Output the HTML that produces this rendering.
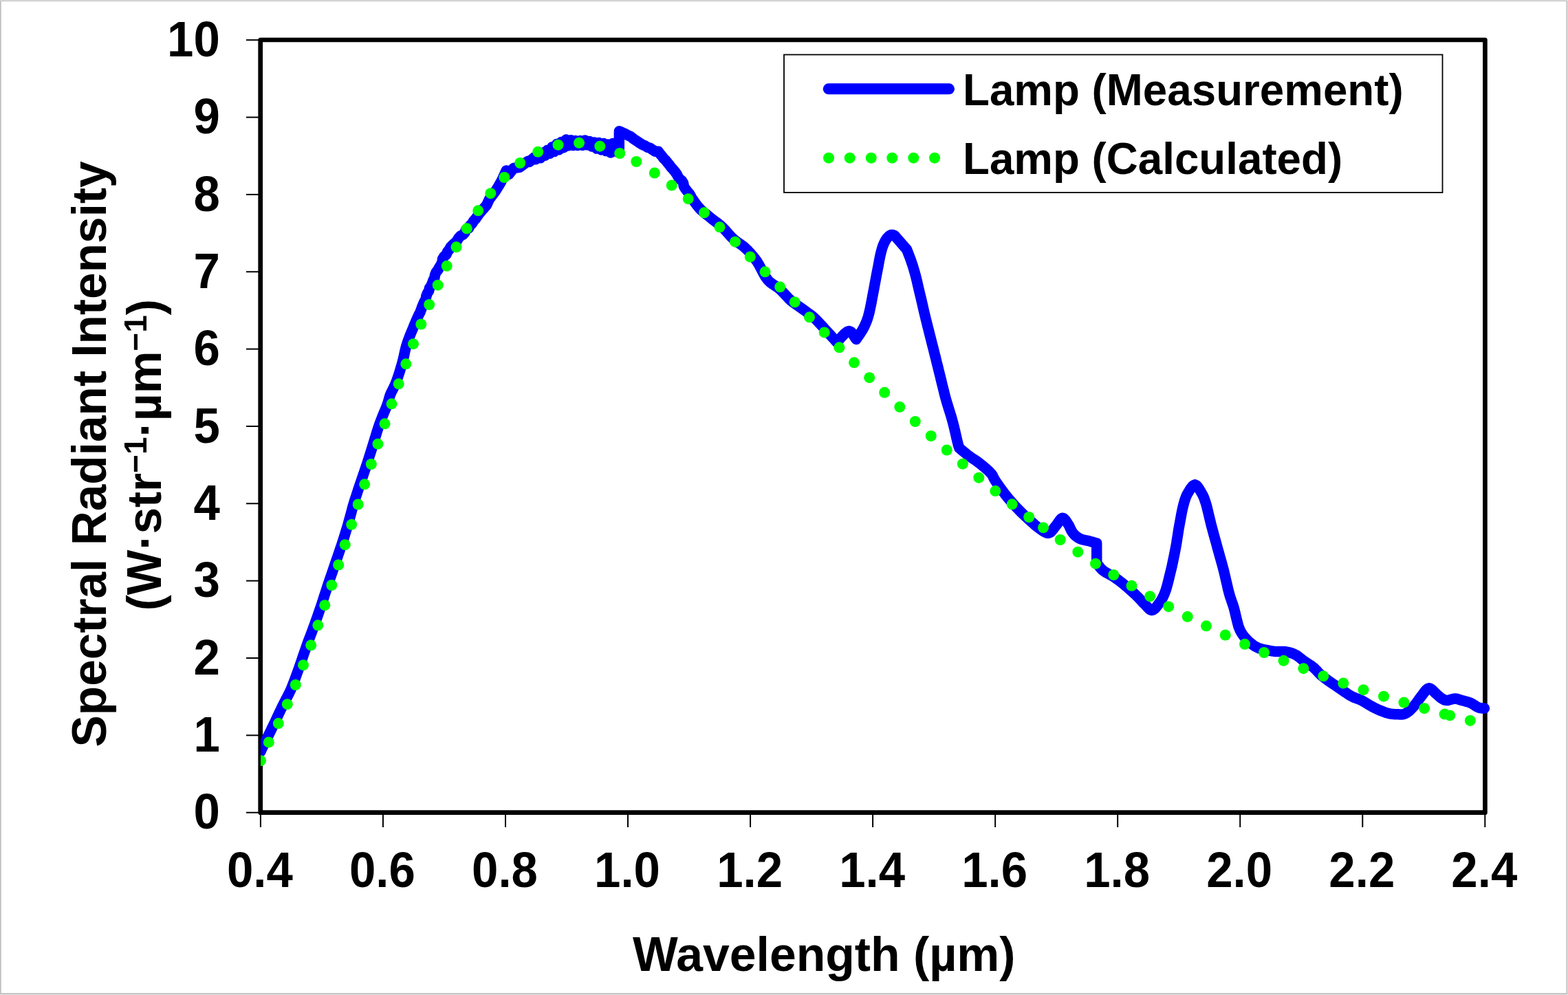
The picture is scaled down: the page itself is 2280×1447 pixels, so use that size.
<!DOCTYPE html>
<html lang="en">
<head>
<meta charset="utf-8">
<title>Lamp spectral radiant intensity</title>
<style>
html,body{margin:0;padding:0;background:#fff;}
body{width:2280px;height:1447px;overflow:hidden;}
svg{display:block;position:absolute;left:0;top:0;}
text{font-family:"Liberation Sans", sans-serif;font-weight:bold;fill:#000;}
.tick{font-size:69px;}
.title{font-size:69.7px;}
.ytitle{font-size:69.4px;}
.leg{font-size:63.7px;}
</style>
</head>
<body>
<svg width="2280" height="1447" viewBox="0 0 2280 1447">
<rect x="0" y="0" width="2280" height="1447" fill="#e2e2e2"/>
<rect x="0" y="0.9" width="2279.1" height="1445.1" fill="#c2c2c2"/>
<rect x="1.8" y="2" width="2275.6" height="1442.1" fill="#fff"/>
<rect x="378.70" y="58.00" width="1780.70" height="1123.70" fill="none" stroke="#000" stroke-width="6.7" stroke-linejoin="round"/>
<g stroke="#000" stroke-width="2">
<line x1="358" y1="1181.70" x2="379" y2="1181.70"/>
<line x1="358" y1="1069.35" x2="379" y2="1069.35"/>
<line x1="358" y1="957.00" x2="379" y2="957.00"/>
<line x1="358" y1="844.65" x2="379" y2="844.65"/>
<line x1="358" y1="732.30" x2="379" y2="732.30"/>
<line x1="358" y1="619.95" x2="379" y2="619.95"/>
<line x1="358" y1="507.60" x2="379" y2="507.60"/>
<line x1="358" y1="395.25" x2="379" y2="395.25"/>
<line x1="358" y1="282.90" x2="379" y2="282.90"/>
<line x1="358" y1="170.55" x2="379" y2="170.55"/>
<line x1="358" y1="58.20" x2="379" y2="58.20"/>
<line x1="378.90" y1="1181.7" x2="378.90" y2="1203"/>
<line x1="556.94" y1="1181.7" x2="556.94" y2="1203"/>
<line x1="734.98" y1="1181.7" x2="734.98" y2="1203"/>
<line x1="913.02" y1="1181.7" x2="913.02" y2="1203"/>
<line x1="1091.06" y1="1181.7" x2="1091.06" y2="1203"/>
<line x1="1269.10" y1="1181.7" x2="1269.10" y2="1203"/>
<line x1="1447.14" y1="1181.7" x2="1447.14" y2="1203"/>
<line x1="1625.18" y1="1181.7" x2="1625.18" y2="1203"/>
<line x1="1803.22" y1="1181.7" x2="1803.22" y2="1203"/>
<line x1="1981.26" y1="1181.7" x2="1981.26" y2="1203"/>
<line x1="2159.30" y1="1181.7" x2="2159.30" y2="1203"/>
</g>
<defs><clipPath id="plotclip"><rect x="378.9" y="0" width="1902" height="1447"/></clipPath></defs>
<path d="M379.0 1093.0 L379.8 1091.2 L380.6 1089.4 L381.4 1087.6 L382.3 1085.7 L383.3 1083.6 L385.1 1080.0 L387.1 1075.9 L389.3 1071.6 L391.5 1067.1 L393.7 1062.7 L396.1 1057.7 L398.6 1052.5 L401.1 1047.2 L403.4 1042.2 L405.6 1037.6 L407.0 1034.7 L408.3 1032.0 L409.5 1029.4 L410.8 1026.9 L412.1 1024.2 L413.7 1021.1 L415.4 1017.8 L417.2 1014.5 L418.8 1011.3 L420.3 1008.4 L421.2 1006.5 L422.0 1004.8 L422.8 1003.1 L423.6 1001.2 L424.5 999.0 L426.5 993.8 L428.9 987.6 L431.4 980.7 L433.9 973.8 L436.2 967.2 L438.3 961.3 L440.2 955.5 L442.2 949.8 L444.2 944.1 L446.2 938.3 L448.3 932.5 L450.5 926.7 L452.7 920.9 L454.9 915.1 L457.0 909.3 L459.1 903.5 L461.2 897.7 L463.2 891.9 L465.2 886.0 L467.2 880.2 L469.1 874.4 L471.0 868.5 L472.9 862.7 L474.8 856.8 L476.7 851.0 L478.7 845.1 L480.7 839.3 L482.7 833.4 L484.7 827.6 L486.7 821.7 L488.7 815.8 L490.8 809.9 L492.8 804.0 L494.8 798.1 L496.8 792.2 L498.7 786.3 L500.6 780.5 L502.4 774.6 L504.2 768.7 L506.0 762.8 L507.6 756.9 L509.2 751.1 L510.8 745.2 L512.3 739.3 L514.0 733.5 L515.8 727.6 L517.7 721.8 L519.6 716.0 L521.5 710.1 L523.5 704.3 L525.5 698.4 L527.5 692.6 L529.5 686.7 L531.5 680.9 L533.5 675.0 L535.4 669.1 L537.2 663.3 L539.1 657.4 L540.9 651.6 L542.7 645.7 L544.5 639.8 L546.3 633.9 L548.1 628.0 L550.0 622.1 L552.0 616.3 L554.3 610.3 L556.7 604.2 L559.2 598.1 L561.6 592.4 L563.5 587.3 L564.5 584.2 L565.3 581.4 L566.0 578.7 L566.8 576.0 L567.8 573.3 L569.1 570.4 L570.5 567.6 L572.0 564.7 L573.5 561.6 L575.0 558.3 L577.0 553.1 L578.9 547.4 L580.9 541.4 L582.7 535.3 L584.5 529.3 L586.0 523.5 L587.4 517.6 L588.6 511.8 L590.0 506.0 L591.7 500.2 L593.7 494.4 L595.9 488.6 L598.2 482.9 L600.6 477.2 L602.2 473.3 L603.8 469.5 L605.4 465.6 L607.2 461.8 L608.9 457.9 L610.9 454.2 L612.4 450.3 L613.7 446.3 L615.4 442.4 L617.0 438.6 L619.2 434.9 L619.8 430.6 L621.3 426.7 L623.6 423.1 L624.5 419.0 L627.0 415.4 L628.6 411.5 L629.9 407.6 L631.9 403.8 L632.6 399.5 L634.3 395.6 L637.0 392.3 L638.9 388.5 L641.1 385.0 L643.0 381.2 L643.5 376.8 L645.7 373.1 L649.0 370.2 L650.6 366.2 L653.3 362.9 L655.3 359.1 L658.4 356.1 L661.5 353.3 L664.4 350.3 L666.6 346.6 L669.3 343.4 L673.2 341.3 L676.0 338.2 L677.6 334.1 L681.5 331.8 L683.5 328.0 L686.5 325.0 L688.7 321.4 L691.5 318.3 L693.9 314.8 L696.3 311.4 L697.2 310.3 L699.0 308.0 L707.3 298.7 L711.6 289.5 L720.7 277.5 L725.0 270.5 L728.2 265.0 L730.9 259.6 L736.2 247.9 L739.9 253.6 L746.9 244.5 L755.6 243.3 L767.8 234.3 L769.8 235.3 L776.2 229.3 L779.0 231.7 L782.4 225.9 L785.8 229.8 L789.2 222.1 L792.6 226.3 L796.0 218.3 L799.4 223.3 L802.8 213.8 L806.2 220.5 L809.6 209.4 L813.0 217.8 L816.4 206.4 L819.8 214.7 L823.2 203.0 L826.6 211.7 L830.0 203.7 L833.4 211.6 L836.8 204.6 L840.2 211.6 L843.6 204.6 L847.0 211.3 L850.4 203.9 L853.8 210.8 L857.2 205.5 L860.6 213.1 L864.0 206.9 L867.4 216.1 L870.8 207.5 L874.2 217.9 L877.6 208.4 L881.0 219.6 L884.4 210.0 L887.8 222.0 L891.2 208.5 L894.6 219.7 L897.5 221.0 L900.2 219.0 L900.4 190.7 L902.1 191.5 L903.8 192.2 L905.4 193.0 L909.3 194.7 L913.0 196.8 L916.8 198.4 L920.1 201.1 L923.5 203.5 L927.1 205.8 L930.5 208.2 L934.1 210.4 L938.0 212.0 L941.5 214.2 L945.7 215.4 L949.1 217.9 L952.7 220.2 L957.2 220.3 L959.7 223.8 L962.5 226.9 L964.9 230.3 L968.0 233.2 L970.6 236.5 L973.3 239.7 L975.7 243.2 L978.6 246.2 L981.3 249.4 L983.8 252.8 L985.7 256.5 L987.9 260.0 L991.5 262.8 L993.6 266.4 L994.4 270.8 L996.5 274.5 L999.1 277.8 L1001.9 281.0 L1004.2 284.6 L1006.1 288.4 L1008.6 291.7 L1009.1 292.6 L1012.9 297.8 L1016.7 302.5 L1019.9 305.8 L1023.2 308.7 L1026.6 311.4 L1029.9 314.0 L1033.3 316.7 L1036.6 319.4 L1040.0 321.9 L1043.4 324.5 L1046.7 327.1 L1050.0 330.0 L1053.4 333.4 L1056.7 337.1 L1060.0 340.8 L1063.3 344.5 L1066.7 347.8 L1070.0 350.5 L1073.3 352.9 L1076.7 355.2 L1080.0 357.6 L1083.3 360.3 L1086.8 363.6 L1090.2 367.2 L1093.5 371.0 L1096.8 375.0 L1100.0 379.2 L1103.4 384.6 L1106.6 390.7 L1109.8 396.8 L1113.1 402.6 L1116.7 407.5 L1119.8 410.5 L1123.2 413.0 L1126.6 415.2 L1130.0 417.4 L1133.3 420.0 L1136.7 423.2 L1140.0 426.7 L1143.3 430.3 L1146.6 433.8 L1150.0 437.0 L1153.3 439.7 L1156.6 442.1 L1160.0 444.5 L1163.4 446.8 L1166.7 449.2 L1170.0 451.6 L1173.4 454.0 L1176.7 456.4 L1180.1 459.0 L1183.3 461.7 L1186.7 464.9 L1190.1 468.4 L1193.4 472.0 L1196.7 475.6 L1200.0 479.2 L1203.4 482.8 L1206.7 486.5 L1210.0 490.2 L1213.4 493.8 L1216.7 497.5 L1220.5 493.7 L1224.3 489.4 L1228.1 485.4 L1231.8 482.5 L1235.0 481.5 L1237.3 482.5 L1239.3 484.7 L1241.2 487.6 L1243.1 490.7 L1245.0 493.5 L1247.2 490.2 L1249.5 486.8 L1251.8 483.5 L1253.9 480.1 L1255.8 476.7 L1257.4 473.5 L1258.8 470.4 L1260.1 467.2 L1261.3 463.8 L1262.5 460.0 L1264.1 454.1 L1265.5 447.5 L1266.9 440.6 L1268.2 433.6 L1269.5 426.7 L1270.8 420.0 L1272.0 413.3 L1273.3 406.6 L1274.5 399.9 L1275.8 393.3 L1277.1 386.7 L1278.3 380.0 L1279.6 373.3 L1281.0 367.2 L1282.4 362.0 L1283.3 359.2 L1284.2 356.7 L1285.2 354.4 L1286.2 352.3 L1287.2 350.3 L1288.1 348.9 L1288.9 347.5 L1289.9 346.3 L1290.8 345.2 L1291.8 344.2 L1292.7 343.4 L1293.5 342.7 L1294.5 342.1 L1295.4 341.7 L1296.3 341.4 L1297.1 341.4 L1298.0 341.5 L1298.9 341.7 L1299.7 342.0 L1300.6 342.2 L1318.5 362.9 L1319.7 365.9 L1320.8 368.8 L1322.0 371.8 L1323.2 374.8 L1324.3 377.9 L1325.5 381.4 L1326.7 384.8 L1327.8 388.4 L1328.9 392.2 L1330.1 396.2 L1331.6 401.8 L1333.1 407.8 L1334.5 414.0 L1336.0 420.4 L1337.5 426.7 L1339.1 433.4 L1340.7 440.3 L1342.3 447.2 L1343.8 453.9 L1345.3 460.0 L1346.3 464.2 L1347.3 468.1 L1348.2 471.9 L1349.2 475.8 L1350.3 480.0 L1351.8 486.1 L1353.5 492.7 L1355.2 499.6 L1357.0 506.5 L1358.7 513.3 L1360.4 520.0 L1362.0 526.7 L1363.7 533.3 L1365.3 540.0 L1367.0 546.7 L1368.6 553.4 L1370.2 560.0 L1371.9 566.7 L1373.5 573.4 L1375.3 580.0 L1377.2 586.7 L1379.3 593.3 L1381.4 600.0 L1383.4 606.6 L1385.3 613.3 L1387.1 620.4 L1388.9 628.1 L1390.6 635.5 L1392.1 641.9 L1393.3 646.7 L1393.7 648.0 L1394.0 649.0 L1394.4 649.9 L1394.7 650.8 L1395.0 651.7 L1397.6 653.9 L1400.2 656.0 L1402.8 658.2 L1405.5 660.3 L1408.3 662.5 L1411.5 664.8 L1414.9 667.1 L1418.3 669.3 L1421.7 671.7 L1425.0 674.2 L1428.6 677.1 L1432.3 680.2 L1435.9 683.3 L1439.1 686.4 L1441.7 689.2 L1442.8 690.8 L1443.6 692.2 L1444.3 693.7 L1445.0 695.2 L1446.0 697.0 L1448.4 700.8 L1451.5 705.2 L1454.8 710.0 L1458.3 714.7 L1461.7 719.2 L1464.9 723.2 L1468.2 727.1 L1471.5 730.9 L1474.9 734.7 L1478.3 738.3 L1481.6 741.7 L1484.9 745.0 L1488.2 748.2 L1491.6 751.4 L1495.0 754.5 L1498.3 757.5 L1501.7 760.6 L1505.0 763.6 L1508.4 766.3 L1511.7 768.7 L1514.4 770.6 L1517.2 772.5 L1519.9 774.1 L1522.5 775.2 L1525.0 775.3 L1527.2 774.3 L1529.2 772.4 L1531.2 770.0 L1533.1 767.4 L1535.0 765.0 L1537.0 762.4 L1539.1 759.3 L1541.1 756.4 L1543.1 754.2 L1545.0 753.3 L1546.7 753.9 L1548.3 755.4 L1550.0 757.5 L1551.5 759.8 L1553.0 762.0 L1554.5 764.4 L1555.8 767.2 L1557.0 769.9 L1558.4 772.6 L1560.0 775.0 L1561.7 777.0 L1563.6 778.8 L1565.6 780.5 L1567.8 782.0 L1570.0 783.3 L1572.5 784.3 L1575.2 785.0 L1577.9 785.6 L1580.7 786.1 L1583.3 786.7 L1585.6 787.4 L1587.9 788.0 L1590.2 788.7 L1592.4 789.3 L1594.7 790.0 L1594.7 819.0 L1596.3 821.1 L1597.9 823.2 L1599.5 825.2 L1601.3 827.3 L1603.3 829.2 L1606.2 831.3 L1609.5 833.3 L1613.0 835.2 L1616.6 837.1 L1620.0 839.2 L1623.4 841.6 L1626.8 844.1 L1630.1 846.6 L1633.4 849.3 L1636.7 852.0 L1640.1 854.9 L1643.5 857.9 L1646.9 861.0 L1650.2 864.0 L1653.3 867.0 L1655.8 869.5 L1658.2 872.1 L1660.5 874.6 L1662.7 877.0 L1665.0 879.2 L1667.0 881.3 L1669.0 883.5 L1671.0 885.5 L1673.0 887.0 L1675.0 887.5 L1677.1 886.8 L1679.1 885.2 L1681.2 882.9 L1683.2 880.4 L1685.0 878.0 L1686.9 875.5 L1688.6 872.8 L1690.2 869.9 L1691.8 866.8 L1693.3 863.3 L1695.4 857.6 L1697.3 851.0 L1699.1 844.0 L1700.8 836.9 L1702.5 830.0 L1704.1 823.4 L1705.5 816.7 L1706.9 810.0 L1708.2 803.4 L1709.5 796.7 L1710.7 790.0 L1711.7 783.3 L1712.8 776.7 L1713.8 770.0 L1715.0 763.3 L1716.3 756.4 L1717.6 749.2 L1719.0 742.1 L1720.5 735.6 L1722.0 730.0 L1722.9 727.1 L1723.8 724.5 L1724.7 722.1 L1725.7 719.8 L1727.0 717.5 L1728.8 714.5 L1730.8 711.1 L1733.1 708.0 L1735.3 705.8 L1737.5 704.9 L1739.6 705.8 L1741.7 708.1 L1743.8 711.2 L1745.8 714.5 L1747.5 717.5 L1748.8 719.8 L1749.9 722.1 L1750.9 724.5 L1751.8 727.1 L1752.8 730.0 L1754.5 735.6 L1756.1 742.1 L1757.8 749.2 L1759.5 756.4 L1761.2 763.3 L1763.0 770.0 L1764.8 776.7 L1766.6 783.3 L1768.5 790.0 L1770.3 796.7 L1772.2 803.4 L1774.0 810.0 L1775.9 816.7 L1777.7 823.3 L1779.5 830.0 L1781.1 836.8 L1782.7 843.7 L1784.3 850.6 L1785.8 857.2 L1787.4 863.3 L1788.7 867.7 L1790.1 871.7 L1791.4 875.6 L1792.8 879.6 L1794.2 884.0 L1795.8 890.3 L1797.4 897.2 L1799.1 904.3 L1800.9 911.0 L1803.2 916.7 L1805.2 920.3 L1807.3 923.5 L1809.6 926.4 L1812.0 929.1 L1814.5 931.7 L1817.1 934.1 L1819.8 936.3 L1822.6 938.4 L1825.4 940.2 L1828.3 941.7 L1830.9 942.8 L1833.6 943.6 L1836.3 944.2 L1839.0 944.8 L1841.7 945.3 L1844.3 945.9 L1847.0 946.4 L1849.6 946.8 L1852.3 947.2 L1855.0 947.5 L1858.0 947.6 L1861.0 947.6 L1864.0 947.5 L1867.1 947.5 L1870.0 947.8 L1872.7 948.3 L1875.4 949.0 L1878.1 949.8 L1880.7 950.8 L1883.3 952.0 L1886.1 953.6 L1888.7 955.5 L1891.4 957.6 L1894.0 959.7 L1896.7 961.7 L1899.4 963.5 L1902.1 965.3 L1904.8 967.0 L1907.5 968.8 L1910.0 970.8 L1912.4 973.0 L1914.5 975.2 L1916.7 977.6 L1919.0 980.0 L1921.7 982.5 L1926.1 986.0 L1931.1 989.6 L1936.4 993.3 L1941.7 996.9 L1946.7 1000.3 L1950.9 1003.2 L1955.0 1006.0 L1959.0 1008.7 L1962.9 1011.2 L1966.7 1013.3 L1969.5 1014.6 L1972.1 1015.6 L1974.8 1016.6 L1977.4 1017.5 L1980.0 1018.7 L1983.0 1020.3 L1986.0 1022.1 L1989.0 1024.0 L1992.0 1025.8 L1995.0 1027.5 L1997.7 1028.9 L2000.4 1030.2 L2003.1 1031.5 L2005.7 1032.7 L2008.4 1033.8 L2010.9 1034.8 L2013.4 1035.7 L2015.9 1036.6 L2018.4 1037.3 L2020.9 1037.9 L2023.4 1038.3 L2026.0 1038.6 L2028.6 1038.7 L2031.1 1038.8 L2033.5 1038.8 L2035.3 1038.9 L2037.0 1038.9 L2038.6 1038.9 L2040.2 1038.8 L2041.8 1038.4 L2043.5 1037.7 L2045.3 1036.7 L2046.9 1035.5 L2048.6 1034.3 L2050.2 1032.9 L2051.9 1031.3 L2053.6 1029.5 L2055.3 1027.6 L2056.9 1025.6 L2058.5 1023.6 L2060.2 1021.4 L2061.8 1019.2 L2063.4 1016.9 L2065.1 1014.6 L2066.9 1012.3 L2068.9 1009.6 L2071.1 1006.6 L2073.3 1003.8 L2075.6 1001.7 L2077.8 1000.8 L2079.8 1001.3 L2081.8 1002.7 L2083.9 1004.6 L2085.9 1006.7 L2087.8 1008.5 L2089.5 1010.0 L2091.2 1011.5 L2092.9 1013.0 L2094.5 1014.4 L2096.2 1015.6 L2097.5 1016.4 L2098.8 1017.1 L2100.0 1017.8 L2101.4 1018.2 L2102.9 1018.5 L2105.3 1018.4 L2108.0 1017.7 L2110.8 1016.9 L2113.6 1016.2 L2116.2 1016.0 L2118.1 1016.2 L2119.9 1016.7 L2121.7 1017.3 L2123.5 1017.9 L2125.4 1018.5 L2127.8 1019.1 L2130.3 1019.7 L2132.9 1020.4 L2135.5 1021.2 L2138.0 1022.1 L2140.6 1023.4 L2143.2 1025.0 L2145.7 1026.7 L2148.1 1028.2 L2150.5 1029.2 L2152.2 1029.6 L2153.8 1029.8 L2155.4 1029.9 L2156.9 1030.0 L2158.5 1030.1" fill="none" stroke="#0000ff" stroke-width="15.5" stroke-linejoin="round" stroke-linecap="round" clip-path="url(#plotclip)"/>
<g fill="#00ff00" clip-path="url(#plotclip)">
<circle cx="378.9" cy="1106.2" r="8.0"/>
<circle cx="390.8" cy="1079.4" r="8.0"/>
<circle cx="404.8" cy="1052.1" r="8.0"/>
<circle cx="417.8" cy="1024.2" r="8.0"/>
<circle cx="429.8" cy="996.0" r="8.0"/>
<circle cx="441.0" cy="967.2" r="8.0"/>
<circle cx="452.2" cy="938.3" r="8.0"/>
<circle cx="462.3" cy="909.3" r="8.0"/>
<circle cx="472.3" cy="880.2" r="8.0"/>
<circle cx="482.3" cy="851.0" r="8.0"/>
<circle cx="492.2" cy="821.5" r="8.0"/>
<circle cx="501.7" cy="792.2" r="8.0"/>
<circle cx="511.2" cy="762.8" r="8.0"/>
<circle cx="520.7" cy="733.5" r="8.0"/>
<circle cx="530.2" cy="704.3" r="8.0"/>
<circle cx="539.8" cy="675.0" r="8.0"/>
<circle cx="549.5" cy="645.7" r="8.0"/>
<circle cx="559.5" cy="616.3" r="8.0"/>
<circle cx="569.5" cy="587.3" r="8.0"/>
<circle cx="579.7" cy="558.3" r="8.0"/>
<circle cx="590.3" cy="529.3" r="8.0"/>
<circle cx="601.0" cy="500.2" r="8.0"/>
<circle cx="612.3" cy="471.5" r="8.0"/>
<circle cx="624.2" cy="443.0" r="8.0"/>
<circle cx="636.7" cy="414.7" r="8.0"/>
<circle cx="649.7" cy="386.8" r="8.0"/>
<circle cx="663.5" cy="359.3" r="8.0"/>
<circle cx="678.7" cy="332.3" r="8.0"/>
<circle cx="695.2" cy="306.3" r="8.0"/>
<circle cx="713.3" cy="281.2" r="8.0"/>
<circle cx="733.3" cy="258.0" r="8.0"/>
<circle cx="756.2" cy="237.0" r="8.0"/>
<circle cx="782.2" cy="220.8" r="8.0"/>
<circle cx="811.5" cy="210.7" r="8.0"/>
<circle cx="842.0" cy="207.8" r="8.0"/>
<circle cx="872.3" cy="212.7" r="8.0"/>
<circle cx="901.2" cy="223.0" r="8.0"/>
<circle cx="925.3" cy="235.0" r="8.0"/>
<circle cx="951.8" cy="251.5" r="8.0"/>
<circle cx="976.7" cy="269.5" r="8.0"/>
<circle cx="1000.7" cy="289.2" r="8.0"/>
<circle cx="1024.0" cy="309.3" r="8.0"/>
<circle cx="1046.5" cy="330.3" r="8.0"/>
<circle cx="1069.0" cy="351.7" r="8.0"/>
<circle cx="1090.8" cy="373.5" r="8.0"/>
<circle cx="1112.5" cy="395.3" r="8.0"/>
<circle cx="1134.2" cy="417.3" r="8.0"/>
<circle cx="1155.7" cy="439.3" r="8.0"/>
<circle cx="1177.0" cy="461.3" r="8.0"/>
<circle cx="1198.7" cy="483.4" r="8.0"/>
<circle cx="1220.4" cy="505.3" r="8.0"/>
<circle cx="1242.0" cy="527.3" r="8.0"/>
<circle cx="1264.2" cy="549.2" r="8.0"/>
<circle cx="1286.2" cy="570.8" r="8.0"/>
<circle cx="1308.3" cy="591.8" r="8.0"/>
<circle cx="1330.8" cy="613.0" r="8.0"/>
<circle cx="1353.7" cy="634.0" r="8.0"/>
<circle cx="1376.7" cy="654.5" r="8.0"/>
<circle cx="1399.8" cy="674.7" r="8.0"/>
<circle cx="1423.3" cy="694.7" r="8.0"/>
<circle cx="1447.3" cy="714.1" r="8.0"/>
<circle cx="1471.7" cy="733.3" r="8.0"/>
<circle cx="1496.2" cy="752.0" r="8.0"/>
<circle cx="1517.0" cy="767.3" r="8.0"/>
<circle cx="1541.7" cy="785.0" r="8.0"/>
<circle cx="1567.3" cy="802.7" r="8.0"/>
<circle cx="1593.0" cy="819.7" r="8.0"/>
<circle cx="1619.3" cy="836.0" r="8.0"/>
<circle cx="1645.5" cy="851.8" r="8.0"/>
<circle cx="1672.2" cy="867.2" r="8.0"/>
<circle cx="1699.2" cy="882.2" r="8.0"/>
<circle cx="1726.7" cy="896.8" r="8.0"/>
<circle cx="1754.0" cy="910.3" r="8.0"/>
<circle cx="1781.7" cy="923.5" r="8.0"/>
<circle cx="1810.0" cy="936.8" r="8.0"/>
<circle cx="1838.0" cy="949.0" r="8.0"/>
<circle cx="1866.5" cy="960.8" r="8.0"/>
<circle cx="1895.3" cy="972.2" r="8.0"/>
<circle cx="1924.2" cy="983.3" r="8.0"/>
<circle cx="1953.3" cy="993.5" r="8.0"/>
<circle cx="1982.5" cy="1003.2" r="8.0"/>
<circle cx="2012.0" cy="1012.7" r="8.0"/>
<circle cx="2041.4" cy="1021.6" r="8.0"/>
<circle cx="2071.1" cy="1030.2" r="8.0"/>
<circle cx="2100.6" cy="1038.6" r="8.0"/>
<circle cx="2108.2" cy="1040.4" r="8.0"/>
<circle cx="2137.8" cy="1047.9" r="8.0"/>
</g>
<g class="tick" text-anchor="end">
<text transform="translate(319.8,1205.4) scale(1,1.043)">0</text>
<text transform="translate(319.8,1093.1) scale(1,1.043)">1</text>
<text transform="translate(319.8,980.7) scale(1,1.043)">2</text>
<text transform="translate(319.8,868.4) scale(1,1.043)">3</text>
<text transform="translate(319.8,756.0) scale(1,1.043)">4</text>
<text transform="translate(319.8,643.7) scale(1,1.043)">5</text>
<text transform="translate(319.8,531.3) scale(1,1.043)">6</text>
<text transform="translate(319.8,419.0) scale(1,1.043)">7</text>
<text transform="translate(319.8,306.6) scale(1,1.043)">8</text>
<text transform="translate(319.8,194.3) scale(1,1.043)">9</text>
<text transform="translate(319.8,81.9) scale(1,1.043)">10</text>
</g>
<g class="tick" text-anchor="middle">
<text transform="translate(377.9,1289.5) scale(1,1.043)">0.4</text>
<text transform="translate(555.9,1289.5) scale(1,1.043)">0.6</text>
<text transform="translate(734.0,1289.5) scale(1,1.043)">0.8</text>
<text transform="translate(912.0,1289.5) scale(1,1.043)">1.0</text>
<text transform="translate(1090.1,1289.5) scale(1,1.043)">1.2</text>
<text transform="translate(1268.1,1289.5) scale(1,1.043)">1.4</text>
<text transform="translate(1446.1,1289.5) scale(1,1.043)">1.6</text>
<text transform="translate(1624.2,1289.5) scale(1,1.043)">1.8</text>
<text transform="translate(1802.2,1289.5) scale(1,1.043)">2.0</text>
<text transform="translate(1980.3,1289.5) scale(1,1.043)">2.2</text>
<text transform="translate(2158.3,1289.5) scale(1,1.043)">2.4</text>
</g>
<text class="title" text-anchor="middle" transform="translate(1198.3,1412.2) scale(1,1.02)">Wavelength (µm)</text>
<text class="ytitle" text-anchor="middle" transform="translate(154.2,660.4) rotate(-90) scale(1,1.02)">Spectral Radiant Intensity</text>
<text class="ytitle" text-anchor="middle" transform="translate(234.2,661.7) rotate(-90) scale(1,1.02)">(W·str<tspan font-size="46" dy="-21">−1</tspan><tspan dy="21">·µm</tspan><tspan font-size="46" dy="-21">−1</tspan><tspan dy="21">)</tspan></text>
<rect x="1140" y="79.5" width="957.5" height="200.5" fill="#fff" stroke="#000" stroke-width="1.8"/>
<line x1="1204.7" y1="129.3" x2="1380" y2="129.3" stroke="#0000ff" stroke-width="16" stroke-linecap="round"/>
<g fill="#00ff00">
<circle cx="1205.0" cy="229.7" r="8"/>
<circle cx="1235.7" cy="229.7" r="8"/>
<circle cx="1266.7" cy="229.7" r="8"/>
<circle cx="1297.3" cy="229.7" r="8"/>
<circle cx="1328.3" cy="229.7" r="8"/>
<circle cx="1359.0" cy="229.7" r="8"/>
</g>
<text class="leg" transform="translate(1400,152.8) scale(1,1.025)">Lamp (Measurement)</text>
<text class="leg" transform="translate(1400,253.0) scale(1,1.025)">Lamp (Calculated)</text>
</svg>
</body>
</html>
